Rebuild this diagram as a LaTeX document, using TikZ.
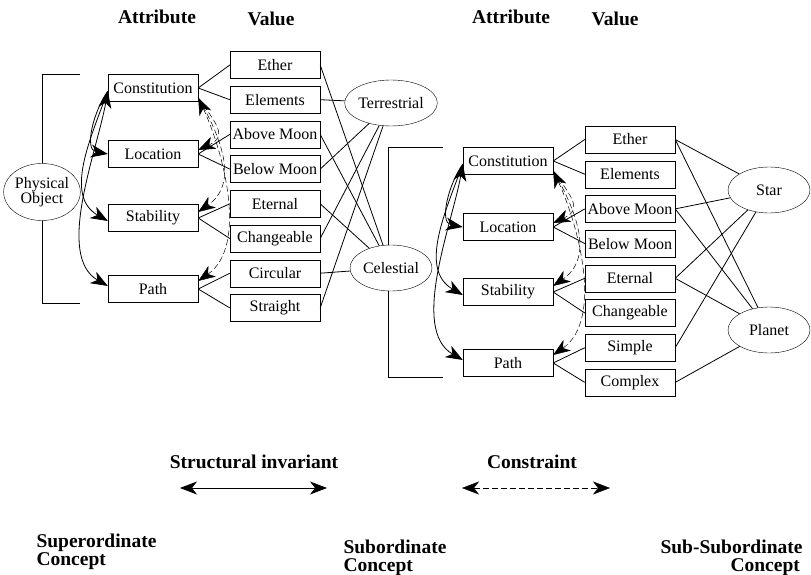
\documentclass[tikz,border=0pt]{standalone}
\usepackage{fontspec}
\setmainfont{Liberation Serif}
\usepackage{tikz}
\usetikzlibrary{arrows.meta,positioning,shapes.geometric}

\begin{document}
\begin{tikzpicture}[
    x=1pt, y=1pt,
    arr/.style={arrows={-Stealth[length=17pt,width=13pt,inset=5pt]}},
    darr/.style={arrows={Stealth[length=17pt,width=13pt,inset=5pt]-Stealth[length=17pt,width=13pt,inset=5pt]}},
    attr/.style={draw, minimum width=90pt, minimum height=27pt, inner sep=1pt,
                 font=\fontsize{16}{18}\selectfont},
    val/.style={attr},
    concept/.style={ellipse, draw, fill=white, minimum width=82pt,
                    minimum height=46pt, inner sep=0pt,
                    font=\fontsize{16}{18}\selectfont},
    head/.style={font=\fontsize{19.5}{18}\selectfont\bfseries, align=left},
    link/.style={line width=0.8pt},
    invariant/.style={line width=0.8pt},
    constraint/.style={line width=0.5pt, dash pattern=on 6pt off 3pt},
  ]
  \useasboundingbox (0,0) rectangle (811,-575);

  % headers
  \node[head] (hattrl) at (157,-17) {Attribute};
  \node[head] (hvall) at (271,-19) {Value};
  \node[head] (hattrr) at (511,-17) {Attribute};
  \node[head] (hvalr) at (615,-19) {Value};

  % superordinate / subordinate concept
  \node[attr] (lcon) at (153,-88) {Constitution};
  \node[attr] (lloc) at (153,-154) {Location};
  \node[attr] (lstab) at (153,-218) {Stability};
  \node[attr] (lpath) at (153,-289) {Path};

  \node[val] (lether) at (275,-65) {Ether};
  \node[val, below=7.3pt of lether] (lelem) {Elements};
  \node[val, below=7.3pt of lelem] (labove) {Above Moon};
  \node[val, below=7.3pt of labove] (lbelow) {Below Moon};
  \node[val, below=7.3pt of lbelow] (leternal) {Eternal};
  \node[val, below=7.3pt of leternal] (lchange) {Changeable};
  \node[val, below=7.3pt of lchange] (lcirc) {Circular};
  \node[val, below=7.3pt of lcirc] (lstraight) {Straight};

  \draw ([xshift=-28pt]lcon.north west) -- ([xshift=-66pt]lcon.north west)
    |- ([xshift=-28pt]lpath.south west);
  \node[concept, minimum width=70pt, minimum height=57pt, align=center,
        font=\fontsize{16}{15}\selectfont] (physobj) at (42,-192) {Physical\\Object};

  \node[concept] (terr) at (391,-103) {Terrestrial};

  % sub-subordinate concept
  \node[attr] (rcon) at (508,-161) {Constitution};
  \node[attr] (rloc) at (508,-227) {Location};
  \node[attr] (rstab) at (508,-292) {Stability};
  \node[attr] (rpath) at (508,-363) {Path};

  \node[val] (rether) at (630,-139.5) {Ether};
  \node[val, below=7.3pt of rether] (relem) {Elements};
  \node[val, below=7.3pt of relem] (rabove) {Above Moon};
  \node[val, below=7.3pt of rabove] (rbelow) {Below Moon};
  \node[val, below=7.3pt of rbelow] (reternal) {Eternal};
  \node[val, below=7.3pt of reternal] (rchange) {Changeable};
  \node[val, below=7.3pt of rchange] (rsimple) {Simple};
  \node[val, below=7.3pt of rsimple] (rcomplex) {Complex};

  \draw ([xshift=-20pt]rcon.north west) -- ([xshift=-75pt]rcon.north west)
    |- ([xshift=-20pt]rpath.south west);
  \node[concept] (cel) at (391,-268) {Celestial};

  \node[concept] (star) at (769,-190) {Star};
  \node[concept] (planet) at (769,-330) {Planet};

  % attribute -- value
  \foreach \s in {l,r} {
    \draw[link] (\s con.east) -- (\s ether.west);
    \draw[link] (\s con.east) -- (\s elem.west);
    \draw[link] (\s loc.east) -- (\s above.west);
    \draw[link] (\s loc.east) -- (\s below.west);
    \draw[link] (\s stab.east) -- (\s eternal.west);
    \draw[link] (\s stab.east) -- (\s change.west);
  }
  \draw[link] (lpath.east) -- (lcirc.west);
  \draw[link] (lpath.east) -- (lstraight.west);
  \draw[link] (rpath.east) -- (rsimple.west);
  \draw[link] (rpath.east) -- (rcomplex.west);

  % value -- concept
  \foreach \v in {lelem,lbelow,lchange,lstraight}
    \draw[link] (\v.east) -- (terr);
  \foreach \v in {lether,labove,leternal,lcirc}
    \draw[link] (\v.east) -- (cel);
  \foreach \v in {rether,rabove,reternal,rsimple}
    \draw[link] (\v.east) -- (star);
  \foreach \v in {rether,rabove,reternal,rcomplex}
    \draw[link] (\v.east) -- (planet);

  % structural invariants and constraints
  \foreach \s in {l,r} {
    \draw[invariant, arr] ([yshift=-3pt]\s con.west) to[out=235, in=170] (\s loc.west);
    \draw[invariant, arr] ([yshift=-3pt]\s con.west) to[out=250, in=150] ([yshift=-3pt]\s stab.west);
    \draw[invariant, darr] ([yshift=-3pt]\s con.west) to[out=260, in=150, looseness=0.8] ([yshift=3pt]\s path.west);
    \draw[constraint, arr] ([yshift=4pt]\s con.south east) to[out=-55, in=25, looseness=1.6] ([yshift=4pt]\s loc.east);
    \draw[constraint, arr] ([yshift=4pt]\s con.south east) to[out=-60, in=35, looseness=1.1] ([yshift=6pt]\s stab.east);
    \draw[constraint, darr] ([yshift=4pt]\s con.south east) to[out=-65, in=35, looseness=0.85] ([yshift=8pt]\s path.east);
  }

  % legend
  \node[head] (silabel) at (254,-462) {Structural invariant};
  \coordinate (si1) at (180,-488);
  \coordinate (si2) at (327,-488);
  \draw[invariant, darr] (si1) -- (si2);
  \node[head] (conlabel) at (532,-462) {Constraint};
  \coordinate (co1) at (462,-488);
  \coordinate (co2) at (610,-488);
  \draw[constraint, darr] (co1) -- (co2);

  \node[head, anchor=west] (superc) at (33,-552) {Superordinate\\Concept};
  \node[head, anchor=west] (subc) at (340,-558) {Subordinate\\Concept};
  \node[head, anchor=west] (subsubc) at (657,-558) {Sub-Subordinate\\\hspace*{70pt}Concept};
\end{tikzpicture}
\end{document}
